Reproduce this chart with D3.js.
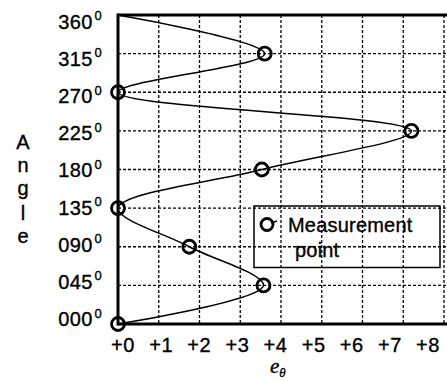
<!DOCTYPE html>
<html><head><meta charset="utf-8">
<script src="https://cdn.jsdelivr.net/npm/d3@7/dist/d3.min.js"></script>
<style>
html,body{margin:0;padding:0;background:#fff;}
svg{display:block;}
text{font-family:"Liberation Sans",Arial,Helvetica,sans-serif;fill:#000;stroke:#000;stroke-width:0.35px;}
</style></head>
<body>
<svg id="chart" width="447" height="381"></svg>
<script>
// ---- data ----
const angleTicks = [0, 45, 90, 135, 180, 225, 270, 315, 360];
const angleTickLabels = ["000", "045", "090", "135", "180", "225", "270", "315", "360"];
const eTicks = [0, 1, 2, 3, 4, 5, 6, 7, 8];
const eTickLabels = ["+0", "+1", "+2", "+3", "+4", "+5", "+6", "+7", "+8"];
const measAngles = [0, 45, 90, 135, 180, 225, 270, 315];
const measValues = [0, 3.57, 1.75, 0, 3.53, 7.2, 0, 3.6];
const curveAngles = [0, 45, 90, 135, 180, 225, 270, 315, 360];
const curveValues = [0, 3.57, 1.75, 0, 3.53, 7.2, 0, 3.6, 0];
const legendLabel = ["Measurement", "point"];
const yTitle = ["A", "n", "g", "l", "e"];

const svg = d3.select("#chart");
const x = d3.scaleLinear().domain([0, 8]).range([118, 444]);
const y = d3.scaleLinear().domain([0, 360]).range([324, 15]);
// label placement scales (labels in the original drift from the grid)
const xLab = d3.scaleLinear().domain([0, 8]).range([123, 428]);
const yLab = d3.scaleLinear().domain([0, 360]).range([319, 21.7]);

// grid
const grid = svg.append("g").attr("stroke", "#000").attr("stroke-width", 1.3)
  .attr("stroke-dasharray", "3,2").attr("fill", "none");
grid.selectAll("line.h").data(angleTicks.slice(1, -1)).join("line")
  .attr("x1", x(0)).attr("x2", 447).attr("y1", d => y(d)).attr("y2", d => y(d));
grid.selectAll("line.v").data(eTicks.slice(1)).join("line")
  .attr("y1", y(360)).attr("y2", y(0)).attr("x1", d => x(d)).attr("x2", d => x(d));

// frame
const frame = svg.append("g").attr("stroke", "#000").attr("stroke-width", 3);
frame.append("line").attr("x1", x(0)).attr("x2", 447).attr("y1", y(360)).attr("y2", y(360));
frame.append("line").attr("x1", x(0)).attr("x2", 447).attr("y1", y(0)).attr("y2", y(0));
frame.append("line").attr("x1", x(0)).attr("x2", x(0)).attr("y1", y(360) - 1.5).attr("y2", y(0) + 1.5);

// curve
const line = d3.line().x(d => x(d[1])).y(d => y(d[0])).curve(d3.curveCatmullRom.alpha(0.5));
svg.append("path").datum(curveAngles.map((a, i) => [a, curveValues[i]]))
  .attr("d", line).attr("fill", "none").attr("stroke", "#000").attr("stroke-width", 1.5);

// markers
svg.append("g").selectAll("circle").data(measAngles.map((a, i) => [a, measValues[i]])).join("circle")
  .attr("cx", d => x(d[1])).attr("cy", d => y(d[0])).attr("r", 6.5)
  .attr("fill", "none").attr("stroke", "#000").attr("stroke-width", 2.8);

// y tick labels
const yl = svg.append("g");
angleTicks.forEach((a, i) => {
  yl.append("text").attr("x", 93).attr("y", yLab(a) + 7).attr("text-anchor", "end")
    .attr("font-size", 20).attr("letter-spacing", 0.5).text(angleTickLabels[i]);
  yl.append("text").attr("x", 94.5).attr("y", yLab(a) - 1.5).attr("font-size", 13).text("0");
});

// x tick labels
svg.append("g").selectAll("text").data(eTicks).join("text")
  .attr("x", d => xLab(d)).attr("y", 352).attr("text-anchor", "middle")
  .attr("font-size", 20).attr("letter-spacing", 0.5).text((d, i) => eTickLabels[i]);

// x title
const xt = svg.append("text").attr("x", 270).attr("y", 373)
  .style("font-family", "'Liberation Serif','Times New Roman',serif").attr("font-style", "italic").attr("font-size", 21);
xt.append("tspan").text("e");
xt.append("tspan").attr("font-size", 13).attr("dy", 4).text("θ");

// y title (stacked letters)
const yBase = [149, 172, 195, 220, 243];
svg.append("g").selectAll("text").data(yTitle).join("text")
  .attr("x", 23).attr("y", (d, i) => yBase[i]).attr("text-anchor", "middle")
  .attr("font-size", 20).text(d => d);

// legend
const lg = svg.append("g");
lg.append("rect").attr("x", 254).attr("y", 206).attr("width", 186).attr("height", 61.5)
  .attr("fill", "none").attr("stroke", "#000").attr("stroke-width", 1.5);
lg.append("circle").attr("cx", 267).attr("cy", 224.5).attr("r", 6)
  .attr("fill", "none").attr("stroke", "#000").attr("stroke-width", 2.8);
lg.append("line").attr("x1", 271).attr("x2", 277).attr("y1", 223).attr("y2", 221)
  .attr("stroke", "#000").attr("stroke-width", 1.5);
lg.append("text").attr("x", 288).attr("y", 231.5).attr("font-size", 20).attr("letter-spacing", 0.2).text(legendLabel[0]);
lg.append("text").attr("x", 295).attr("y", 256.5).attr("font-size", 20).attr("letter-spacing", 0.2).text(legendLabel[1]);
</script>
</body></html>
